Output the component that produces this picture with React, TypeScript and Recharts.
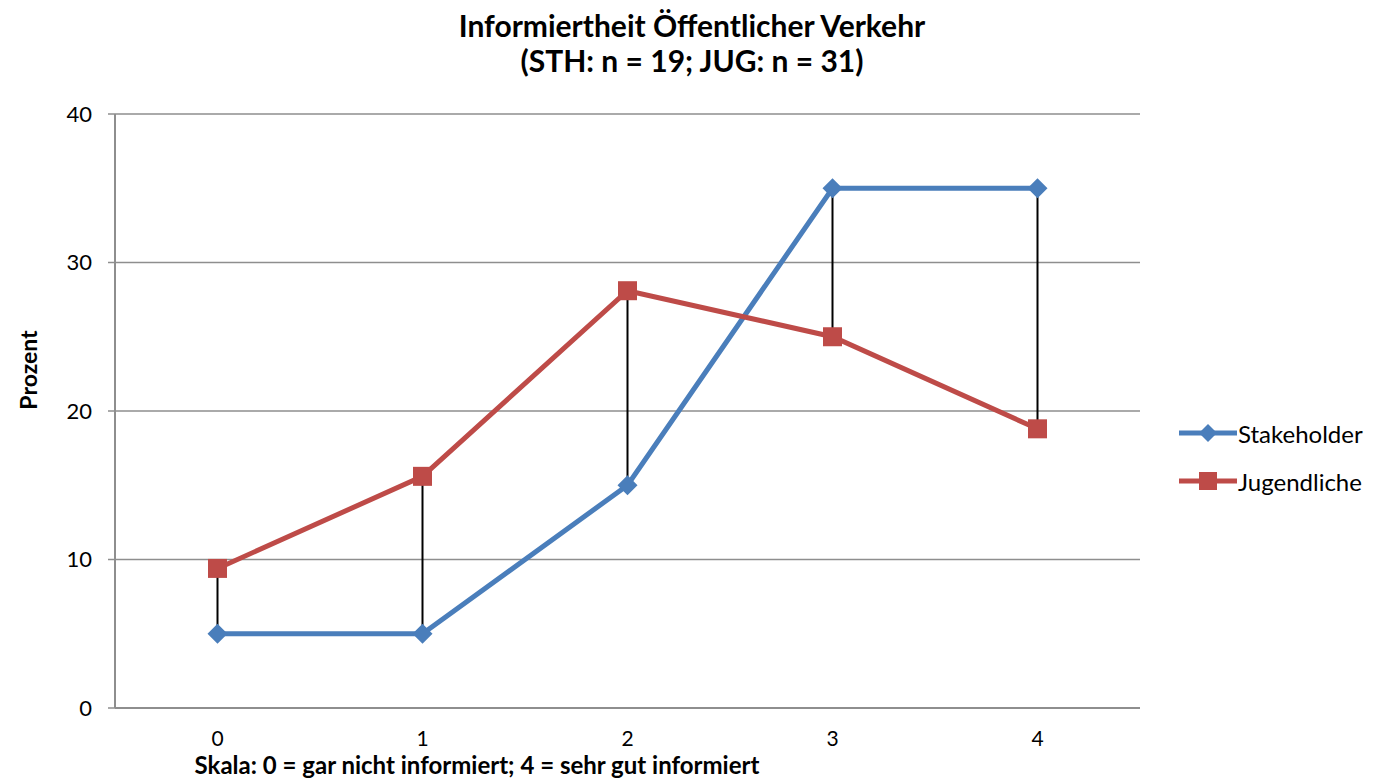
import React from 'react';
import { ComposedChart, Line, Bar, XAxis, YAxis, CartesianGrid } from 'recharts';

const categories = ['0', '1', '2', '3', '4'];
const stakeholder = [5, 5, 15, 35, 35];
const jugendliche = [9.4, 15.6, 28.1, 25, 18.8];
const yTicks = [0, 10, 20, 30, 40];
const seriesNames = ['Stakeholder', 'Jugendliche'];

const data = categories.map((c, i) => ({
  cat: c,
  sth: stakeholder[i],
  jug: jugendliche[i],
  range: [Math.min(stakeholder[i], jugendliche[i]), Math.max(stakeholder[i], jugendliche[i])],
}));

const BLUE = '#4A7EBB';
const RED = '#BE4B48';
const FONT = 'Lato, "Open Sans", sans-serif';

const Diamond = (props: any) => {
  const { cx, cy } = props;
  if (cx == null || cy == null) return null;
  const r = 10;
  return <polygon points={`${cx},${cy - r} ${cx + r},${cy} ${cx},${cy + r} ${cx - r},${cy}`} fill={BLUE} />;
};

const Square = (props: any) => {
  const { cx, cy } = props;
  if (cx == null || cy == null) return null;
  const s = 19;
  return <rect x={cx - s / 2} y={cy - s / 2} width={s} height={s} fill={RED} />;
};

const HiLo = (props: any) => {
  const { x, y, width, height } = props;
  if (x == null) return null;
  const cx = x + width / 2;
  return <line x1={cx} x2={cx} y1={y} y2={y + height} stroke="#000" strokeWidth={2} />;
};

const LegendBox = () => (
  <div style={{ position: 'absolute', left: 1179, top: 409, fontFamily: FONT, fontSize: 24, color: '#000' }}>
    {[
      { name: seriesNames[0], color: BLUE, type: 'd' },
      { name: seriesNames[1], color: RED, type: 's' },
    ].map((it) => (
      <div key={it.name} style={{ display: 'flex', alignItems: 'center', height: 48 }}>
        <svg width={58} height={24} style={{ marginRight: 1 }}>
          <line x1={0} x2={58} y1={12} y2={12} stroke={it.color} strokeWidth={5} />
          {it.type === 'd' ? (
            <polygon points="29,3 38,12 29,21 20,12" fill={it.color} />
          ) : (
            <rect x={20} y={3} width={18} height={18} fill={it.color} />
          )}
        </svg>
        <span>{it.name}</span>
      </div>
    ))}
  </div>
);

export default function App() {
  return (
    <div style={{ position: 'absolute', left: 0, top: 0, width: 1377, height: 779, background: '#fff', fontFamily: FONT, overflow: 'hidden' }}>
      <div style={{ position: 'absolute', left: 0, width: 1384, top: 8, textAlign: 'center', fontWeight: 700, fontSize: 30, lineHeight: '35px', color: '#000' }}>
        <div>Informiertheit Öffentlicher Verkehr</div>
        <div>(STH: n = 19; JUG: n = 31)</div>
      </div>
      <div style={{ position: 'absolute', left: 28, top: 370, transform: 'translate(-50%, -50%) rotate(-90deg)', fontWeight: 700, fontSize: 23, color: '#000', whiteSpace: 'nowrap' }}>
        Prozent
      </div>
      <div style={{ position: 'absolute', left: 477, top: 752, transform: 'translateX(-50%)', fontWeight: 700, fontSize: 24, lineHeight: '26px', color: '#000', whiteSpace: 'nowrap' }}>
        Skala: 0 = gar nicht informiert; 4 = sehr gut informiert
      </div>
      <LegendBox />
      <ComposedChart
        width={1377}
        height={779}
        data={data}
        margin={{ top: 114, right: 237, bottom: 0, left: 0 }}
        style={{ position: 'absolute', left: 0, top: 0 }}
      >
        <CartesianGrid horizontal vertical={false} stroke="#8E8E8E" strokeWidth={1.5} />
        <XAxis
          dataKey="cat"
          height={71}
          tickLine={false}
          axisLine={{ stroke: '#8E8E8E', strokeWidth: 2 }}
          tick={{ fill: '#000', fontSize: 21, fontFamily: FONT }}
          tickMargin={17}
        />
        <YAxis
          width={115}
          domain={[0, 40]}
          ticks={yTicks}
          interval={0}
          tickSize={7}
          tickMargin={16}
          tickLine={{ stroke: '#8E8E8E', strokeWidth: 1.5 }}
          axisLine={{ stroke: '#8E8E8E', strokeWidth: 2 }}
          tick={{ fill: '#000', fontSize: 22, fontFamily: FONT }}
        />
        <Line dataKey="sth" name={seriesNames[0]} stroke={BLUE} strokeWidth={5} dot={<Diamond />} activeDot={false} isAnimationActive={false} />
        <Line dataKey="jug" name={seriesNames[1]} stroke={RED} strokeWidth={5} dot={<Square />} activeDot={false} isAnimationActive={false} />
        <Bar dataKey="range" shape={<HiLo />} isAnimationActive={false} legendType="none" />
      </ComposedChart>
    </div>
  );
}
